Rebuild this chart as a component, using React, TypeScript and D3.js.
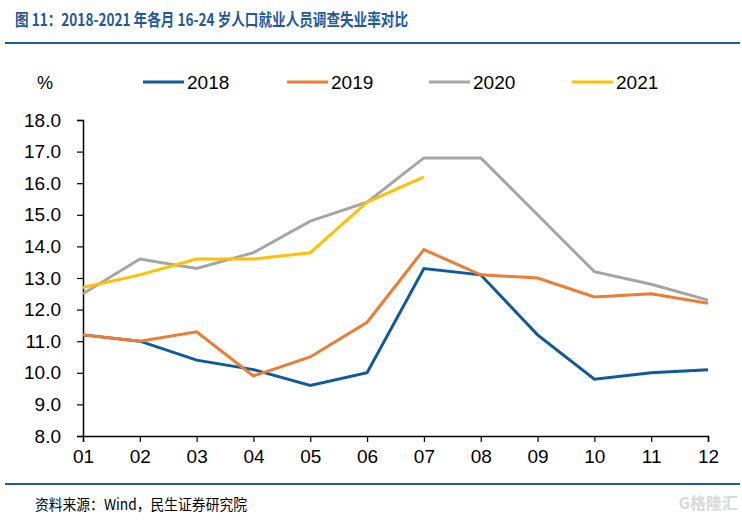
import React, { useEffect, useRef } from 'react';
import * as d3 from 'd3';

const months = ['01', '02', '03', '04', '05', '06', '07', '08', '09', '10', '11', '12'];
const yTicks = [8, 9, 10, 11, 12, 13, 14, 15, 16, 17, 18];

const s2018 = [11.2, 11.0, 10.4, 10.1, 9.6, 10.0, 13.3, 13.1, 11.2, 9.8, 10.0, 10.1];
const s2019 = [11.2, 11.0, 11.3, 9.9, 10.5, 11.6, 13.9, 13.1, 13.0, 12.4, 12.5, 12.2];
const s2020 = [12.5, 13.6, 13.3, 13.8, 14.8, 15.4, 16.8, 16.8, 15.0, 13.2, 12.8, 12.3];
const s2021 = [12.7, 13.1, 13.6, 13.6, 13.8, 15.4, 16.2];

const seriesNames = ['2018', '2019', '2020', '2021'];
const seriesColors = ['#0F5A9C', '#ED7D31', '#A5A5A5', '#FFC000'];

const W = 742;
const H = 520;

const App: React.FC = () => {
  const svgRef = useRef<SVGSVGElement | null>(null);

  useEffect(() => {
    const svg = d3.select(svgRef.current);
    svg.selectAll('*').remove();

    const font = '"Liberation Sans", Arial, sans-serif';
    const cjk = '"Noto Sans CJK SC", sans-serif';

    // titulo
    svg.append('text')
      .attr('x', 15).attr('y', 26)
      .attr('fill', '#1F5B9B')
      .attr('font-family', cjk)
      .attr('font-weight', 'bold')
      .attr('font-size', 17)
      .attr('textLength', 393)
      .attr('lengthAdjust', 'spacingAndGlyphs')
      .text('图 11：2018-2021 年各月 16-24 岁人口就业人员调查失业率对比');

    svg.append('line')
      .attr('x1', 5).attr('x2', 740).attr('y1', 43).attr('y2', 43)
      .attr('stroke', '#1F5B9B').attr('stroke-width', 2);

    const x = d3.scalePoint<string>().domain(months).range([83, 708]);
    const y = d3.scaleLinear().domain([8, 18]).range([436, 120]);

    // eixo Y
    const yAxis = svg.append('g')
      .attr('transform', 'translate(83,0)')
      .call(d3.axisLeft(y).tickValues(yTicks).tickSize(6).tickFormat(d3.format('.1f')));
    yAxis.select('.domain').attr('stroke', '#000').attr('stroke-width', 1.5);
    yAxis.selectAll('.tick line').attr('stroke', '#000').attr('stroke-width', 1.2);
    yAxis.selectAll('.tick text')
      .attr('font-family', font).attr('font-size', 19).attr('fill', '#000').attr('x', -22);

    // eixo X
    const xAxis = svg.append('g')
      .attr('transform', 'translate(0,436)')
      .call(d3.axisBottom(x).tickSize(6));
    xAxis.select('.domain').attr('stroke', '#000').attr('stroke-width', 1.5);
    xAxis.selectAll('.tick line').attr('stroke', '#000').attr('stroke-width', 1.2);
    xAxis.selectAll('.tick text')
      .attr('font-family', font).attr('font-size', 19).attr('fill', '#000').attr('y', 14);

    svg.append('text')
      .attr('x', 37).attr('y', 89)
      .attr('font-family', font).attr('font-size', 18)
      .text('%');

    const line = d3.line<number>()
      .x((_, i) => x(months[i]) as number)
      .y((d) => y(d));

    const allSeries = [s2018, s2019, s2020, s2021];
    // desenha na ordem: 2020 atras
    [2, 0, 1, 3].forEach((k) => {
      svg.append('path')
        .datum(allSeries[k])
        .attr('fill', 'none')
        .attr('stroke', seriesColors[k])
        .attr('stroke-width', 3)
        .attr('stroke-linejoin', 'miter')
        .attr('d', line);
    });

    // legenda
    const legX = [143, 287, 429, 572];
    seriesNames.forEach((name, i) => {
      svg.append('line')
        .attr('x1', legX[i]).attr('x2', legX[i] + 41)
        .attr('y1', 82).attr('y2', 82)
        .attr('stroke', seriesColors[i]).attr('stroke-width', 3);
      svg.append('text')
        .attr('x', legX[i] + 44).attr('y', 89)
        .attr('font-family', font).attr('font-size', 19)
        .text(name);
    });

    // rodape
    svg.append('line')
      .attr('x1', 5).attr('x2', 740).attr('y1', 484).attr('y2', 484)
      .attr('stroke', '#1F5B9B').attr('stroke-width', 2);

    svg.append('text')
      .attr('x', 35).attr('y', 510)
      .attr('font-family', cjk).attr('font-size', 15)
      .attr('textLength', 212)
      .attr('lengthAdjust', 'spacingAndGlyphs')
      .text('资料来源：Wind，民生证券研究院');

    svg.append('text')
      .attr('x', 738).attr('y', 509)
      .attr('text-anchor', 'end')
      .attr('font-family', cjk).attr('font-size', 16).attr('font-weight', 'bold')
      .attr('fill', '#D8D8D8')
      .text('G格隆汇');
  }, []);

  return (
    <svg ref={svgRef} width={W} height={H}
      style={{ position: 'absolute', left: 0, top: 0, background: '#fff' }} />
  );
};

export default App;
